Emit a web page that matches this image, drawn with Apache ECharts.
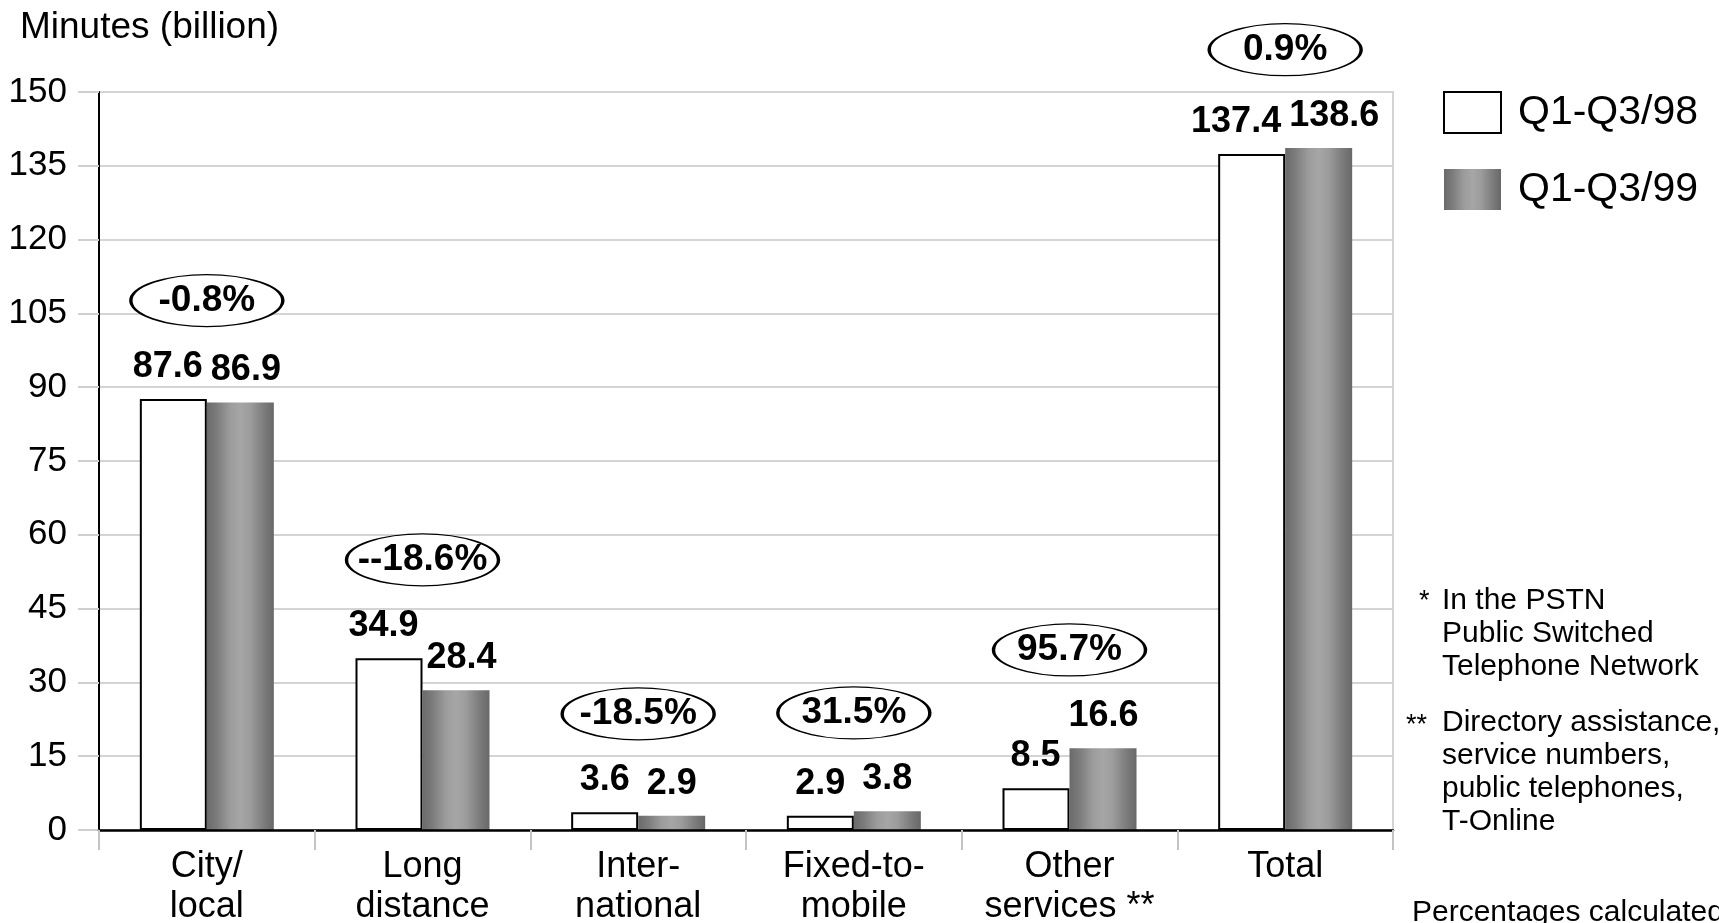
<!DOCTYPE html>
<html>
<head>
<meta charset="utf-8">
<script src="https://cdn.jsdelivr.net/npm/echarts@6/dist/echarts.min.js"></script>
<style>
  html, body { margin: 0; padding: 0; background: #fff; }
  #chart { width: 1719px; height: 923px; }
</style>
</head>
<body>
<div id="chart"></div>
<script>
// Call minutes by traffic type, billions
const categories = ['City/\nlocal', 'Long\ndistance', 'Inter-\nnational', 'Fixed-to-\nmobile', 'Other\nservices **', 'Total'];
const seriesNames = ['Q1-Q3/98', 'Q1-Q3/99'];
const minutes98 = [87.6, 34.9, 3.6, 2.9, 8.5, 137.4];
const minutes99 = [86.9, 28.4, 2.9, 3.8, 16.6, 138.6];
const changeLabels = ['-0.8%', '--18.6%', '-18.5%', '31.5%', '95.7%', '0.9%'];
const yAxisMin = 0;
const yAxisMax = 150;
const yAxisStep = 15;
const titleText = 'Minutes (billion)';
const notePSTN = ['In the PSTN', 'Public Switched', 'Telephone Network'];
const noteOther = ['Directory assistance,', 'service numbers,', 'public telephones,', 'T-Online'];
const noteBottom = 'Percentages calculated';

const FONT = '"Liberation Sans", Arial, Helvetica, sans-serif';
const BAR_WIDTH = 67;
const VALUE_FONT_SIZE = 36;

// change badges sit this many axis units above the taller bar of each pair
const BADGE_LIFT = 20;

const greyBarFill = new echarts.graphic.LinearGradient(0, 0, 1, 0, [
  { offset: 0.00, color: '#6a6a6a' },
  { offset: 0.15, color: '#7c7c7c' },
  { offset: 0.35, color: '#9c9c9c' },
  { offset: 0.50, color: '#a6a6a6' },
  { offset: 0.65, color: '#9c9c9c' },
  { offset: 0.85, color: '#7c7c7c' },
  { offset: 1.00, color: '#686868' }
]);

// spread the two value labels of a pair apart when they are wider than the bars
const measureCtx = document.createElement('canvas').getContext('2d');
measureCtx.font = 'bold ' + VALUE_FONT_SIZE + 'px ' + FONT;
function labelSpread(i) {
  const wA = measureCtx.measureText(String(minutes98[i])).width;
  const wB = measureCtx.measureText(String(minutes99[i])).width;
  const need = (wA + wB) / 2 + 8;
  return Math.max(0, need - BAR_WIDTH) / 2;
}

const valueLabel = {
  show: true,
  position: 'top',
  distance: 14,
  color: '#000',
  fontFamily: FONT,
  fontSize: VALUE_FONT_SIZE,
  fontWeight: 'bold'
};

function barData(values, side) {
  return values.map((v, i) => ({
    value: v,
    label: { offset: [side * labelSpread(i), 0] }
  }));
}

const badgeData = categories.map((c, i) => [i, Math.max(minutes98[i], minutes99[i]) + BADGE_LIFT]);

const chart = echarts.init(document.getElementById('chart'), null, { renderer: 'canvas' });

chart.setOption({
  animation: false,
  backgroundColor: '#fff',
  textStyle: { fontFamily: FONT, color: '#000' },
  title: {
    text: titleText,
    left: 20,
    top: 9,
    padding: 0,
    textStyle: { fontFamily: FONT, fontSize: 37, fontWeight: 'normal', color: '#000' }
  },
  legend: {
    data: seriesNames,
    orient: 'vertical',
    left: 1443,
    top: 91,
    padding: 0,
    itemWidth: 57,
    itemHeight: 41,
    itemGap: 35,
    icon: 'rect',
    selectedMode: false,
    textStyle: { fontFamily: FONT, fontSize: 41, color: '#000', lineHeight: 41, padding: [0, 0, 0, 12] }
  },
  grid: {
    left: 99,
    right: 326,
    top: 92,
    bottom: 93,
    outerBoundsMode: 'none',
    containLabel: false,
    show: true,
    borderColor: '#d4d4d4',
    borderWidth: 2,
    backgroundColor: 'transparent'
  },
  xAxis: {
    type: 'category',
    data: categories,
    z: 5,
    axisLine: { show: true, lineStyle: { color: '#000', width: 2.5 } },
    axisTick: { show: true, length: 20, alignWithLabel: false, lineStyle: { color: '#c4c4c4', width: 2 } },
    axisLabel: {
      interval: 0,
      margin: 17,
      color: '#000',
      fontFamily: FONT,
      fontSize: 36,
      lineHeight: 40
    },
    splitLine: { show: false }
  },
  yAxis: {
    type: 'value',
    min: yAxisMin,
    max: yAxisMax,
    interval: yAxisStep,
    axisLine: { show: true, lineStyle: { color: '#000', width: 2 } },
    axisTick: { show: true, length: 21, lineStyle: { color: '#cfcfcf', width: 2 } },
    axisLabel: { margin: 32, color: '#000', fontFamily: FONT, fontSize: 35 },
    splitLine: { show: true, lineStyle: { color: '#d4d4d4', width: 2 } }
  },
  series: [
    {
      name: seriesNames[0],
      type: 'bar',
      data: barData(minutes98, -1),
      barWidth: BAR_WIDTH,
      barGap: '0%',
      itemStyle: { color: '#fff', borderColor: '#000', borderWidth: 2 },
      label: valueLabel,
      emphasis: { disabled: true }
    },
    {
      name: seriesNames[1],
      type: 'bar',
      data: barData(minutes99, 1),
      barWidth: BAR_WIDTH,
      barGap: '0%',
      itemStyle: { color: greyBarFill },
      label: valueLabel,
      emphasis: { disabled: true }
    },
    {
      // percentage change badges
      type: 'scatter',
      data: badgeData,
      clip: false,
      silent: true,
      z: 6,
      symbol: 'path://M0 26A76 26 0 1 1 152 26A76 26 0 1 1 0 26Z',
      symbolSize: [152, 52],
      itemStyle: { color: '#fff', borderColor: '#000', borderWidth: 2, opacity: 1 },
      label: {
        show: true,
        position: 'inside',
        formatter: (p) => changeLabels[p.dataIndex],
        color: '#000',
        fontFamily: FONT,
        fontSize: 37,
        fontWeight: 'bold'
      }
    }
  ],
  graphic: [
    { type: 'text', left: 1419, top: 588, style: { text: '*', fill: '#000', fontFamily: FONT, fontSize: 27 } },
    { type: 'text', left: 1442, top: 584, style: { text: notePSTN.join('\n'), fill: '#000', fontFamily: FONT, fontSize: 30, lineHeight: 33 } },
    { type: 'text', left: 1406, top: 712, style: { text: '**', fill: '#000', fontFamily: FONT, fontSize: 27 } },
    { type: 'text', left: 1442, top: 706, style: { text: noteOther.join('\n'), fill: '#000', fontFamily: FONT, fontSize: 30, lineHeight: 33 } },
    { type: 'text', left: 1412, top: 896, style: { text: noteBottom, fill: '#000', fontFamily: FONT, fontSize: 30, lineHeight: 33 } }
  ]
});
</script>
</body>
</html>
